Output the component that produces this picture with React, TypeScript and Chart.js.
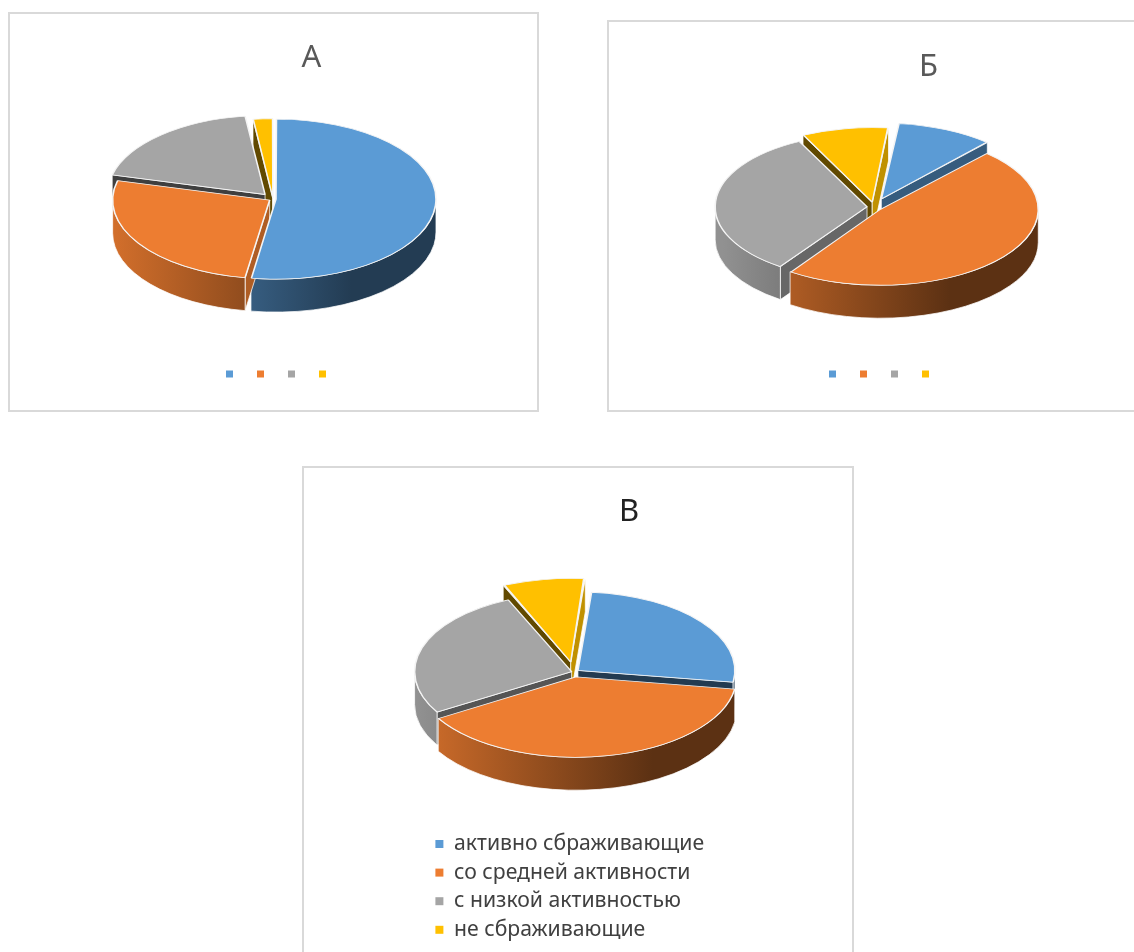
import React, { useEffect, useRef } from "react";
import { Chart, registerables } from "chart.js";

Chart.register(...registerables);

const categories = ["активно сбраживающие", "со средней активности", "с низкой активностью", "не сбраживающие"];
const sharesA = [52.5, 26.5, 19, 2];
const sharesB = [10, 48, 33, 9];
const sharesC = [26, 39, 27, 8];
const sliceColors = ["#5B9BD5", "#ED7D31", "#A5A5A5", "#FFC000"];

const FONT = "'Noto Sans', sans-serif";

const rgb = (hex: string) => [1, 3, 5].map((i) => parseInt(hex.slice(i, i + 2), 16));
const shade = (hex: string, f: number) => {
  const [r, g, b] = rgb(hex);
  return `rgb(${Math.round(r * f)},${Math.round(g * f)},${Math.round(b * f)})`;
};

// Faces turned to the east catch the light, those facing south sit in shadow.
const faceTone = (normal: number) => {
  const n = ((normal % (2 * Math.PI)) + 2 * Math.PI) % (2 * Math.PI);
  return n <= Math.PI / 2 ? 0.78 - 0.4 * (n / (Math.PI / 2)) : 0.38;
};

// Squashes the pie into an ellipse and extrudes its side walls below the top faces.
const pie3d = {
  id: "pie3d",
  afterLayout(chart: any, _a: any, o: any) {
    const t = chart.titleBlock;
    t.left += o.titleShift;
    t.right += o.titleShift;
    const l = chart.legend;
    [l.left, l.top, l.right, l.bottom] = o.legendBox;
  },
  beforeDatasetsDraw(chart: any, _a: any, o: any) {
    const { ctx } = chart;
    const arcs = chart.getDatasetMeta(0).data;
    const [cx, cy] = o.center;
    const s = o.squash;
    const d = o.depth;
    const R = arcs[0].outerRadius;

    const wallFill = (color: string) => {
      const g = ctx.createLinearGradient(cx - R, 0, cx + R, 0);
      g.addColorStop(0, shade(color, 0.88));
      g.addColorStop(0.75, shade(color, 0.39));
      g.addColorStop(1, shade(color, 0.39));
      return g;
    };

    const order = arcs
      .map((arc: any, i: number) => ({ arc, i, mid: (arc.startAngle + arc.endAngle) / 2 }))
      .sort((a: any, b: any) => Math.sin(a.mid) - Math.sin(b.mid));

    ctx.save();
    ctx.strokeStyle = "rgba(255,255,255,0.75)";
    ctx.lineWidth = 1;
    ctx.lineJoin = "round";
    for (const { arc, i, mid } of order) {
      const color = sliceColors[i];
      const off = (arc.options.offset || 0) / 4;
      const sweep = arc.endAngle - arc.startAngle;
      const r = arc.outerRadius + off * (1 - Math.sin(Math.min(Math.PI, sweep)));
      const px = cx + Math.cos(mid) * off;
      const py = cy + Math.sin(mid) * off * s;

      const edges = [
        { a: arc.startAngle, n: arc.startAngle - Math.PI / 2 },
        { a: arc.endAngle, n: arc.endAngle + Math.PI / 2 },
      ];
      for (const { a, n } of edges) {
        if (Math.sin(n) <= 0) continue;
        const rx = px + r * Math.cos(a);
        const ry = py + r * s * Math.sin(a);
        ctx.beginPath();
        ctx.moveTo(px, py);
        ctx.lineTo(rx, ry);
        ctx.lineTo(rx, ry + d);
        ctx.lineTo(px, py + d);
        ctx.closePath();
        ctx.fillStyle = shade(color, faceTone(n));
        ctx.fill();
        ctx.stroke();
      }

      // Only the part of the rim on the near half of the ellipse is visible.
      for (const turn of [-2, 0, 2]) {
        const lo = Math.max(arc.startAngle, turn * Math.PI);
        const hi = Math.min(arc.endAngle, (turn + 1) * Math.PI);
        if (hi <= lo) continue;
        ctx.beginPath();
        ctx.ellipse(px, py, r, r * s, 0, lo, hi);
        ctx.ellipse(px, py + d, r, r * s, 0, hi, lo, true);
        ctx.closePath();
        ctx.fillStyle = wallFill(color);
        ctx.fill();
        ctx.stroke();
      }
    }
    ctx.restore();

    ctx.save();
    ctx.translate(cx, cy);
    ctx.scale(1, s);
    ctx.translate(-arcs[0].x, -arcs[0].y);
  },
  afterDatasetsDraw(chart: any) {
    chart.ctx.restore();
  },
};

type PanelProps = {
  title: string;
  titleColor: string;
  values: number[];
  box: { left: number; top: number; width: number; height: number; open: string[] };
  rotation: number;
  radius: number;
  offsets: number[];
  center: number[];
  squash: number;
  titleShift: number;
  titleTop: number;
  legendBox: number[];
  legendSide: "bottom" | "left";
  legendText: boolean;
};

function PiePanel(p: PanelProps) {
  const ref = useRef<HTMLCanvasElement>(null);
  useEffect(() => {
    const { left, top } = p.box;
    const chart = new Chart(ref.current!, {
      type: "pie",
      data: {
        labels: categories,
        datasets: [
          {
            data: p.values,
            backgroundColor: sliceColors,
            borderColor: "#F4F4F4",
            borderWidth: 1.6,
            offset: p.offsets,
            radius: p.radius,
            clip: false,
          } as any,
        ],
      },
      options: {
        responsive: false,
        animation: false,
        rotation: p.rotation,
        events: [],
        plugins: {
          tooltip: { enabled: false },
          title: {
            display: true,
            text: p.title,
            color: p.titleColor,
            font: { family: FONT, size: 31, weight: "normal" },
            padding: { top: p.titleTop, bottom: 0 },
          },
          legend: {
            display: true,
            position: p.legendSide,
            align: p.legendSide === "left" ? "start" : "center",
            labels: {
              boxWidth: p.legendText ? 8 : 7,
              boxHeight: p.legendText ? 8 : 7,
              padding: p.legendText ? 7.4 : 18,
              color: "#404040",
              font: { family: FONT, size: p.legendText ? 21.2 : 12 },
              generateLabels: (c: any) =>
                (Chart.overrides.pie.plugins.legend.labels as any).generateLabels(c).map((it: any) => ({
                  ...it,
                  text: p.legendText ? it.text : "",
                  lineWidth: 0,
                })),
            },
          },
          pie3d: {
            center: [p.center[0] - left, p.center[1] - top],
            squash: p.squash,
            depth: 33,
            titleShift: p.titleShift,
            legendBox: [
              p.legendBox[0] - left,
              p.legendBox[1] - top,
              p.legendBox[2] - left,
              p.legendBox[3] - top,
            ],
          },
        } as any,
      },
      plugins: [pie3d as any],
    });
    return () => chart.destroy();
  }, []);

  const { left, top, width, height, open } = p.box;
  const edge = "2px solid #D9D9D9";
  return (
    <div
      style={{
        position: "absolute",
        left,
        top,
        width,
        height,
        boxSizing: "border-box",
        borderTop: edge,
        borderLeft: edge,
        borderRight: open.includes("right") ? "none" : edge,
        borderBottom: open.includes("bottom") ? "none" : edge,
        overflow: "hidden",
      }}
    >
      <canvas
        ref={ref}
        width={width}
        height={height}
        style={{ position: "absolute", left: -2, top: -2, display: "block" }}
      />
    </div>
  );
}

export default function App() {
  return (
    <div style={{ position: "absolute", left: 0, top: 0, width: 1134, height: 952, overflow: "hidden", background: "#fff" }}>
      <PiePanel
        title="А"
        titleColor="#595959"
        values={sharesA}
        box={{ left: 8, top: 12, width: 531, height: 400, open: [] }}
        rotation={0}
        radius={157}
        offsets={[12, 16, 48, 8]}
        center={[273, 199]}
        squash={0.5}
        titleShift={38}
        titleTop={28}
        legendBox={[79, 350, 479, 390]}
        legendSide="bottom"
        legendText={false}
      />
      <PiePanel
        title="Б"
        titleColor="#595959"
        values={sharesB}
        box={{ left: 607, top: 20, width: 527, height: 392, open: ["right"] }}
        rotation={6}
        radius={151}
        offsets={[72, 32, 28, 40]}
        center={[874, 207]}
        squash={0.48}
        titleShift={58}
        titleTop={29}
        legendBox={[682, 350, 1082, 390]}
        legendSide="bottom"
        legendText={false}
      />
      <PiePanel
        title="В"
        titleColor="#222222"
        values={sharesC}
        box={{ left: 302, top: 466, width: 552, height: 486, open: ["bottom"] }}
        rotation={5}
        radius={157}
        offsets={[20, 40, 10, 80]}
        center={[574, 672]}
        squash={0.5}
        titleShift={51}
        titleTop={28}
        legendBox={[428, 826, 717, 952]}
        legendSide="left"
        legendText={true}
      />
    </div>
  );
}
